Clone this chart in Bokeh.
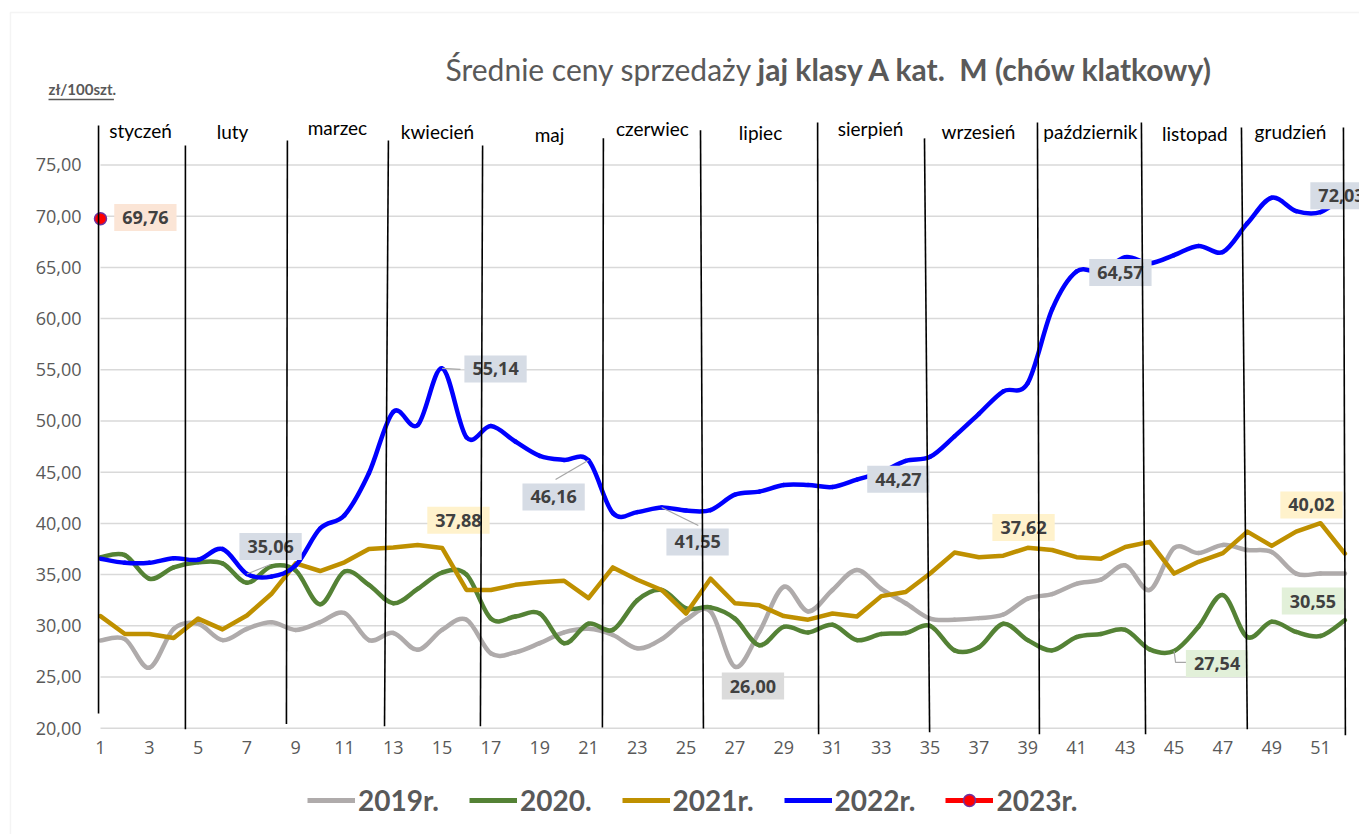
from bokeh.plotting import figure
from bokeh.models import (FixedTicker, CustomJSTickFormatter, Legend, LegendItem,
                          Label, BoxAnnotation)
from bokeh.core.properties import value
from bokeh.embed import file_html
from bokeh.resources import INLINE

# ---------------- data ----------------
weeks = list(range(1, 53))

s2019 = [28.56, 28.7, 25.9, 29.7, 30.2, 28.6, 29.7, 30.35, 29.6, 30.35,
         31.25, 28.6, 29.3, 27.65, 29.6, 30.6, 27.3, 27.4, 28.3, 29.35,
         29.7, 29.1, 27.8, 28.7, 30.6, 31.4, 26.00, 29.4, 33.8, 31.4,
         33.5, 35.46, 33.6, 32.2, 30.7, 30.6, 30.75, 31.1, 32.65, 33.1,
         34.1, 34.5, 35.9, 33.5, 37.6, 37.1, 37.9, 37.4, 37.2, 35.1,
         35.1, 35.1]

s2020 = [36.7, 36.9, 34.6, 35.7, 36.2, 36.1, 34.2, 35.8, 35.4, 32.1,
         35.3, 34.0, 32.2, 33.6, 35.2, 35.0, 30.7, 30.9, 31.2, 28.3,
         30.2, 29.6, 32.5, 33.5, 31.7, 31.8, 30.7, 28.1, 29.9, 29.35,
         30.1, 28.6, 29.2, 29.3, 30.0, 27.6, 27.9, 30.2, 28.6, 27.6,
         28.9, 29.2, 29.6, 27.7, 27.54, 29.9, 33.0, 28.9, 30.4, 29.4,
         29.0, 30.55]

s2021 = [30.95, 29.2, 29.2, 28.8, 30.7, 29.65, 31.0, 33.1, 36.1, 35.35,
         36.2, 37.5, 37.65, 37.88, 37.6, 33.5, 33.5, 34.0, 34.25, 34.4,
         32.7, 35.7, 34.5, 33.5, 31.2, 34.6, 32.2, 32.0, 30.95, 30.6,
         31.2, 30.9, 32.9, 33.3, 35.1, 37.15, 36.7, 36.85, 37.62, 37.4,
         36.7, 36.55, 37.7, 38.2, 35.1, 36.25, 37.1, 39.2, 37.8, 39.2,
         40.02, 37.05]

s2022 = [36.55, 36.15, 36.15, 36.6, 36.45, 37.5, 35.06, 34.8, 35.9, 39.5,
         40.8, 44.9, 50.9, 49.6, 55.14, 48.4, 49.5, 48.0, 46.6, 46.2,
         46.16, 41.0, 41.1, 41.55, 41.25, 41.3, 42.8, 43.1, 43.75, 43.75,
         43.55, 44.27, 45.0, 46.1, 46.5, 48.5, 50.7, 52.9, 53.7, 60.9,
         64.6, 64.57, 66.0, 65.4, 66.2, 67.1, 66.5, 69.3, 71.8, 70.5,
         70.4, 72.03]

w2023 = [1]
s2023 = [69.76]

series_names = ["2019r.", "2020.", "2021r.", "2022r.", "2023r."]

x_ticks = list(range(1, 52, 2))
y_ticks = list(range(20, 80, 5))

months = ["styczeń", "luty", "marzec", "kwiecień", "maj", "czerwiec",
          "lipiec", "sierpień", "wrzesień", "październik", "listopad", "grudzień"]

# ---------------- layout (positions of decorations) ----------------
month_x = [2.64, 6.41, 10.71, 14.81, 19.40, 23.62, 28.05, 32.56, 36.98, 41.57, 45.85, 49.77]
month_y = [78.37, 78.27, 78.66, 78.27, 77.98, 78.56, 78.17, 78.56, 78.27, 78.27, 78.08, 78.27]

div_x0 = [0.92, 4.48, 8.66, 12.80, 16.66, 21.61, 25.59, 30.39, 34.77, 39.40, 43.66, 47.76, 51.94]
div_y0 = [78.86, 76.9, 77.4, 77.4, 76.9, 77.6, 78.4, 79.15, 77.6, 79.15, 79.15, 78.66, 78.66]
div_x1 = [0.92, 4.48, 8.62, 12.64, 16.57, 21.57, 25.71, 30.43, 34.98, 39.48, 43.83, 48.0, 52.02]
div_y1 = [21.44, 19.9, 20.4, 20.2, 20.2, 20.07, 19.97, 19.4, 19.6, 19.4, 19.4, 19.9, 19.3]

# data labels: (series index, week, label centre x, label centre y, box colour)
dlabels = [
    (4, 1, 2.84, 69.87, "#FBE5D6"),
    (3, 7, 7.97, 37.75, "#D6DCE5"),
    (3, 15, 17.19, 55.08, "#D6DCE5"),
    (3, 21, 19.57, 42.58, "#D6DCE5"),
    (3, 24, 25.47, 38.19, "#D6DCE5"),
    (3, 32, 33.70, 44.30, "#D6DCE5"),
    (3, 42, 42.80, 64.50, "#D6DCE5"),
    (3, 52, 51.86, 72.00, "#D6DCE5"),
    (2, 14, 15.67, 40.30, "#FFF2CC"),
    (2, 39, 38.83, 39.60, "#FFF2CC"),
    (2, 51, 50.63, 41.80, "#FFF2CC"),
    (0, 27, 27.74, 24.12, "#DBDBDB"),
    (1, 52, 50.69, 32.42, "#E2F0D9"),
    (1, 45, 46.76, 26.32, "#E2F0D9"),
]
# leader lines: (series index, week, path points after the data point)
leaders = [
    (3, 7, [(7.97, 35.98)]),
    (3, 15, [(15.75, 55.05)]),
    (3, 21, [(19.65, 44.28)]),
    (3, 24, [(25.5, 39.8)]),
    (1, 45, [(45.06, 26.42), (45.55, 26.42)]),
]

colors = ["#AFABAB", "#548235", "#BF9000", "#0000FF", "#FF0000"]
all_series = [s2019, s2020, s2021, s2022, s2023]
smooth = [True, True, False, True]

# ---------------- figure ----------------
# the frame covers the whole canvas; axes are drawn at fixed locations inside it
p = figure(width=1359, height=834, output_backend="svg", toolbar_location=None,
           x_range=(-3.098, 52.598), y_range=(9.619, 91.064),
           min_border_left=0, min_border_right=0, min_border_top=0,
           min_border_bottom=0, min_border=0, background_fill_color="white",
           border_fill_color="white", outline_line_color=None)
p.xgrid.visible = False
p.ygrid.visible = False

for ax in (p.xaxis[0], p.yaxis[0]):
    ax.axis_line_color = None
    ax.major_tick_line_color = None
    ax.minor_tick_line_color = None
    ax.major_tick_out = 0
    ax.major_tick_in = 0
    ax.minor_tick_out = 0
    ax.minor_tick_in = 0
    ax.major_label_text_font = "Open Sans"
    ax.major_label_text_font_size = "18px"
    ax.major_label_text_color = "#595959"
p.xaxis.ticker = FixedTicker(ticks=x_ticks)
p.yaxis.ticker = FixedTicker(ticks=y_ticks)
p.yaxis.formatter = CustomJSTickFormatter(code="return tick.toFixed(2).replace('.', ',');")
p.xaxis.fixed_location = 19.16
p.yaxis.fixed_location = 0.713
p.xaxis.major_label_standoff = 4
p.yaxis.major_label_standoff = 12

# horizontal gridlines
p.segment(x0=[weeks[0]] * len(y_ticks), x1=[weeks[-1]] * len(y_ticks),
          y0=y_ticks, y1=y_ticks, line_color="#D9D9D9", line_width=1.5)


def bezier_parts(xs, ys):
    n = len(xs)
    out = dict(x0=[], y0=[], x1=[], y1=[], cx0=[], cy0=[], cx1=[], cy1=[])
    for i in range(n - 1):
        im = max(i - 1, 0)
        ip = min(i + 2, n - 1)
        out["x0"].append(xs[i]); out["y0"].append(ys[i])
        out["x1"].append(xs[i + 1]); out["y1"].append(ys[i + 1])
        out["cx0"].append(xs[i] + (xs[i + 1] - xs[im]) / 6.0)
        out["cy0"].append(ys[i] + (ys[i + 1] - ys[im]) / 6.0)
        out["cx1"].append(xs[i + 1] - (xs[ip] - xs[i]) / 6.0)
        out["cy1"].append(ys[i + 1] - (ys[ip] - ys[i]) / 6.0)
    return out


legend_renderers = []
for k in range(4):
    if smooth[k]:
        p.bezier(line_color=colors[k], line_width=4.5, line_cap="round",
                 **bezier_parts(weeks, all_series[k]))
    else:
        p.line(weeks, all_series[k], line_color=colors[k], line_width=4.5,
               line_join="round", line_cap="round")
    # single-point line: draws nothing in the plot, gives the legend its swatch
    legend_renderers.append([p.line(x=weeks[:1], y=all_series[k][:1],
                                    line_color=colors[k], line_width=5)])

r23_line = p.line(x=w2023, y=s2023, line_color=colors[4], line_width=5)
r23 = p.scatter(w2023, s2023, size=12, marker="circle", fill_color="#FF0000",
                line_color="#7030A0", line_width=1.5)
legend_renderers.append([r23_line, r23])

# leader lines
lx, ly = [], []
for si, wk, pts in leaders:
    xs = [wk] + [q[0] for q in pts]
    ys = [all_series[si][wk - 1]] + [q[1] for q in pts]
    lx.append(xs); ly.append(ys)
p.multi_line(xs=lx, ys=ly, line_color="#A6A6A6", line_width=1.2)

# data labels
for si, wk, cx, cy, bg in dlabels:
    v = s2023[w2023.index(wk)] if si == 4 else all_series[si][wk - 1]
    txt = f"{v:.2f}".replace(".", ",")
    p.add_layout(Label(x=cx, y=cy, text=txt, text_align="center", text_baseline="middle",
                       text_font="Open Sans", text_font_style="bold",
                       text_font_size="18px", text_color="#404040",
                       background_fill_color=bg,
                       padding=dict(left=8, right=8, top=7, bottom=7)))

# month separators (drawn over everything)
p.segment(x0=div_x0, y0=div_y0, x1=div_x1, y1=div_y1, line_color="black",
          line_width=1.6, level="overlay")

# month names
p.text(x=month_x, y=month_y, text=months, text_align="center", text_baseline="middle",
       text_font=value("Lato"), text_font_size="19px", text_color="black")

# title
p.add_layout(Label(x=15.14, y=84.4, text="Średnie ceny sprzedaży", text_font="Lato",
                   text_font_size="30px", text_color="#595959",
                   text_baseline="alphabetic"))
p.add_layout(Label(x=27.93, y=84.4, text="jaj klasy A kat.\u00a0 M (chów klatkowy)",
                   text_font="Lato", text_font_style="bold", text_font_size="30px",
                   text_color="#595959", text_baseline="alphabetic"))

# unit label
p.add_layout(Label(x=-1.13, y=82.47, text="zł/100szt.", text_font="Lato",
                   text_font_style="bold", text_font_size="15px", text_color="#595959",
                   text_baseline="middle"))
p.add_layout(BoxAnnotation(left=-1.13, right=1.55, bottom=81.33, top=81.48,
                           fill_color="#595959", fill_alpha=1, line_color=None))

# outer chart border
p.add_layout(BoxAnnotation(left=-2.69, right=60, bottom=0, top=89.89,
                           fill_alpha=0, line_color="#D9D9D9", line_width=1.5))

# legend
items = [LegendItem(label=series_names[k], renderers=legend_renderers[k]) for k in range(5)]
legend = Legend(items=items, orientation="horizontal", location=(307, 17),
                label_text_font="Lato", label_text_font_style="bold",
                label_text_font_size="28px", label_text_color="#595959",
                glyph_width=48, glyph_height=30, label_standoff=3, spacing=30,
                padding=0, margin=0, border_line_color=None, background_fill_alpha=0)
p.add_layout(legend)

open("out.html", "w").write(file_html(p, INLINE))
